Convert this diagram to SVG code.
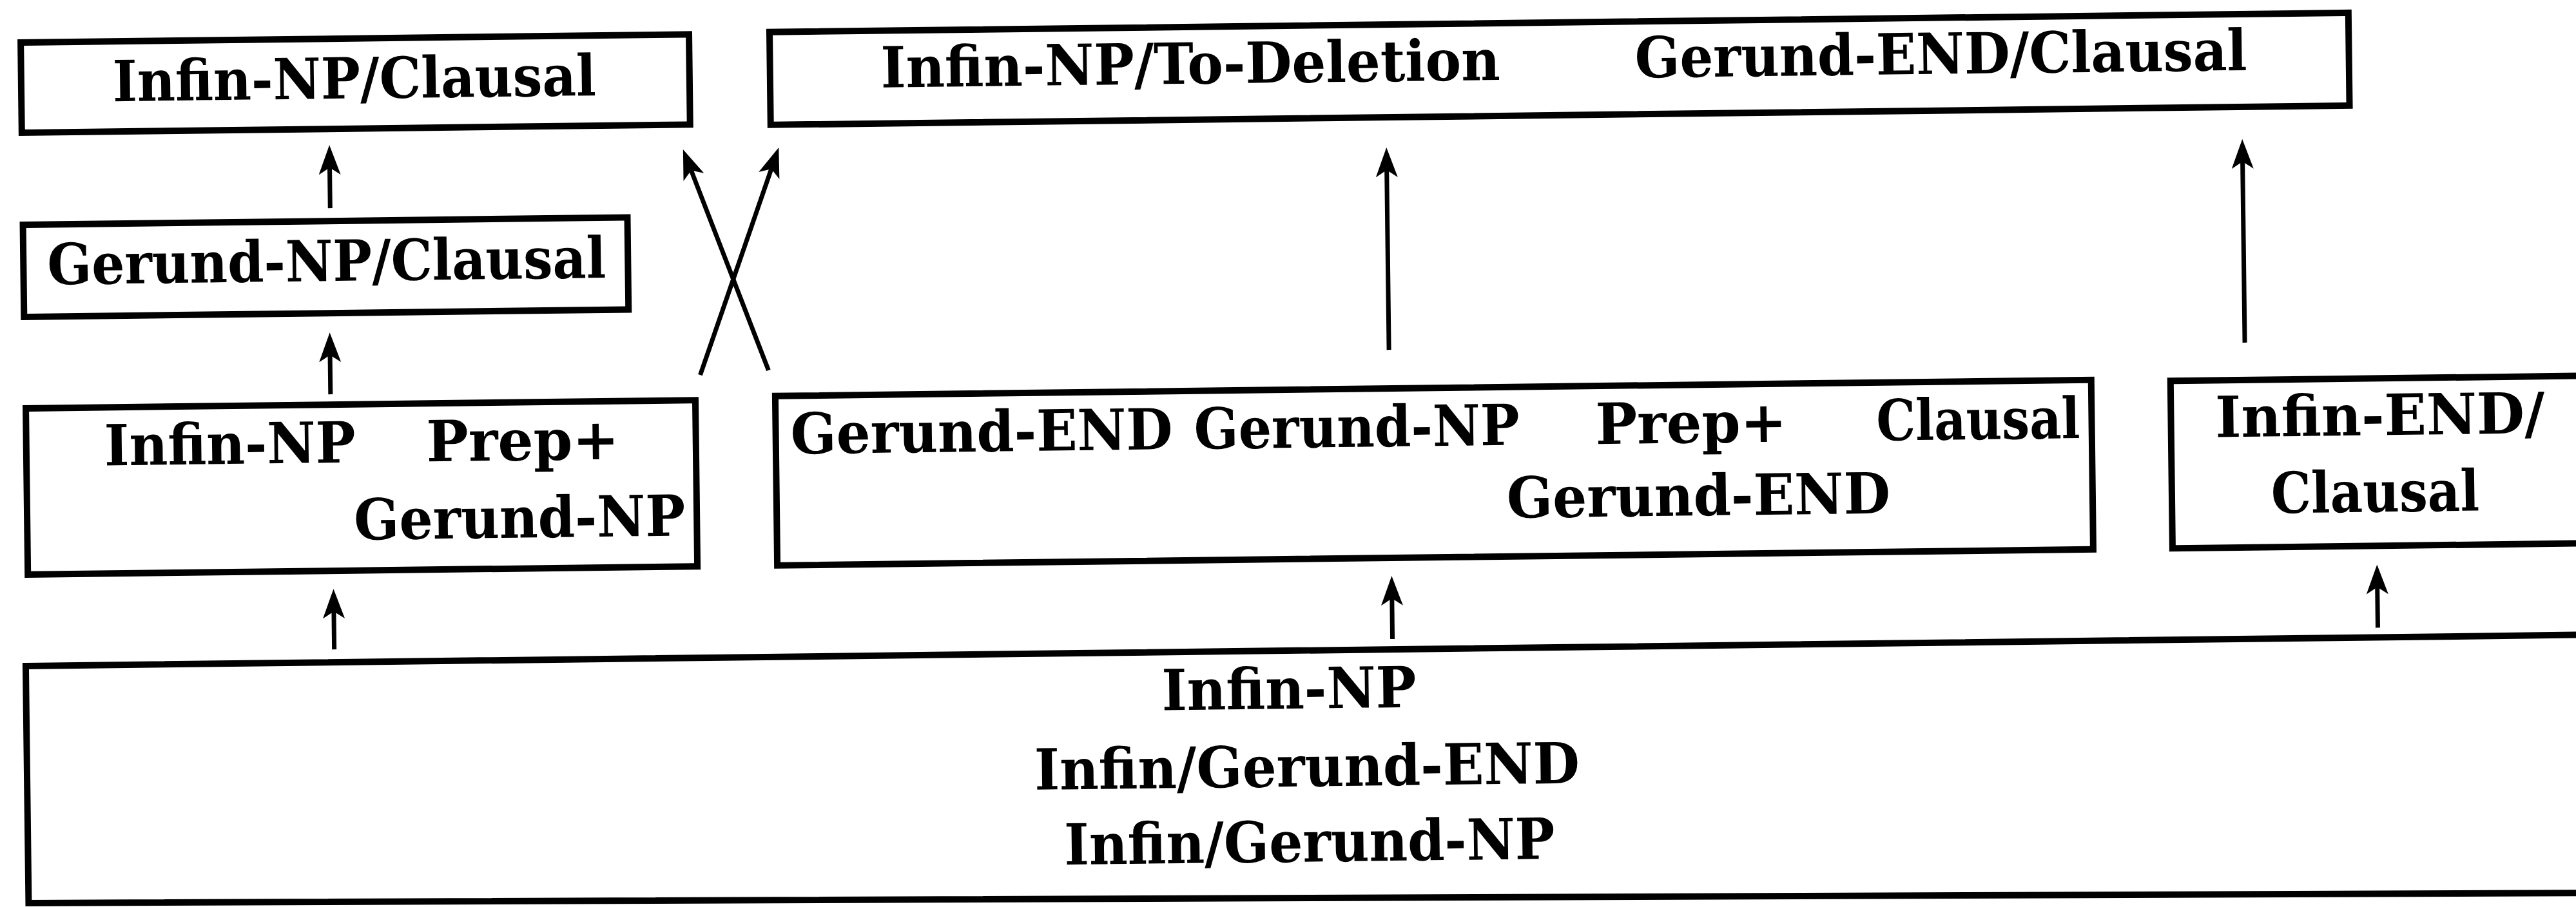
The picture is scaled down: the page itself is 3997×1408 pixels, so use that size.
<svg xmlns="http://www.w3.org/2000/svg" width="3997" height="1408" viewBox="0 0 3997 1408">
<style>
.box{fill:none;stroke:#000;stroke-width:10;stroke-linejoin:miter}
.t{font-family:"DejaVu Serif","Liberation Serif",serif;font-size:88px;font-weight:bold;fill:#000}
.c{fill:none;stroke:#000;stroke-width:7}
</style>
<defs>
<marker id="ah" markerUnits="userSpaceOnUse" markerWidth="48" markerHeight="36" refX="22" refY="17" orient="auto">
<path d="M0,0 L46,17 L0,34 L11,17 Z" fill="#000"/>
</marker>
</defs>
<rect width="3997" height="1408" fill="#fff"/>
<g transform="rotate(-0.7 2000 700)">
<g id="node-infin-np-clausal">
<rect class="box" x="40" y="42" width="1037" height="140"/>
<text class="t" x="182" y="135" textLength="750" lengthAdjust="spacingAndGlyphs">Infin-NP/Clausal</text>
</g>
<g id="node-gerund-np-clausal">
<rect class="box" x="40" y="325" width="938" height="143"/>
<text class="t" x="77" y="418" textLength="867" lengthAdjust="spacingAndGlyphs">Gerund-NP/Clausal</text>
</g>
<g id="node-infin-np-prep">
<rect class="box" x="41" y="610" width="1039" height="258"/>
<text class="t" x="162" y="700" textLength="390" lengthAdjust="spacingAndGlyphs">Infin-NP</text>
<text class="t" x="662" y="700" textLength="299" lengthAdjust="spacingAndGlyphs">Prep+</text>
<text class="t" x="548" y="820" textLength="514" lengthAdjust="spacingAndGlyphs">Gerund-NP</text>
</g>
<g id="node-top-right">
<rect class="box" x="1202" y="40" width="2450" height="144"/>
<text class="t" x="1374" y="128" textLength="961" lengthAdjust="spacingAndGlyphs">Infin-NP/To-Deletion</text>
<text class="t" x="2544" y="127" textLength="950" lengthAdjust="spacingAndGlyphs">Gerund-END/Clausal</text>
</g>
<g id="node-gerund-end-group">
<rect class="box" x="1204" y="605" width="2042" height="263"/>
<text class="t" x="1227" y="695" textLength="593" lengthAdjust="spacingAndGlyphs">Gerund-END</text>
<text class="t" x="1853" y="695" textLength="505" lengthAdjust="spacingAndGlyphs">Gerund-NP</text>
<text class="t" x="2476" y="695" textLength="297" lengthAdjust="spacingAndGlyphs">Prep+</text>
<text class="t" x="2912" y="695" textLength="316" lengthAdjust="spacingAndGlyphs">Clausal</text>
<text class="t" x="2337" y="808" textLength="595" lengthAdjust="spacingAndGlyphs">Gerund-END</text>
</g>
<g id="node-infin-end-clausal">
<rect class="box" x="3369" y="608" width="760" height="260"/>
<text class="t" x="3438" y="696" textLength="511" lengthAdjust="spacingAndGlyphs">Infin-END/</text>
<text class="t" x="3523" y="815" textLength="323" lengthAdjust="spacingAndGlyphs">Clausal</text>
</g>
<g id="node-base">
<path class="box" d="M36,1010 L4150,1010 L4150,1412 L36,1378 Z"/>
<text class="t" x="1798" y="1100" textLength="395" lengthAdjust="spacingAndGlyphs">Infin-NP</text>
<text class="t" x="1599" y="1221" textLength="846" lengthAdjust="spacingAndGlyphs">Infin/Gerund-END</text>
<text class="t" x="1644" y="1338" textLength="761" lengthAdjust="spacingAndGlyphs">Infin/Gerund-NP</text>
</g>
<g id="connectors">
<line class="c" x1="517" y1="305" x2="517" y2="231" marker-end="url(#ah)"/>
<line class="c" x1="514" y1="594" x2="514" y2="522" marker-end="url(#ah)"/>
<line class="c" x1="515" y1="990" x2="515" y2="920" marker-end="url(#ah)"/>
<line class="c" x1="1088" y1="571" x2="1206" y2="242" marker-end="url(#ah)"/>
<line class="c" x1="1194" y1="565" x2="1074" y2="243" marker-end="url(#ah)"/>
<line class="c" x1="2157" y1="545" x2="2157" y2="255" marker-end="url(#ah)"/>
<line class="c" x1="2157" y1="994" x2="2157" y2="920" marker-end="url(#ah)"/>
<line class="c" x1="3485" y1="550" x2="3485" y2="258" marker-end="url(#ah)"/>
<line class="c" x1="3686" y1="995" x2="3686" y2="921" marker-end="url(#ah)"/>
</g>
</g>
</svg>
